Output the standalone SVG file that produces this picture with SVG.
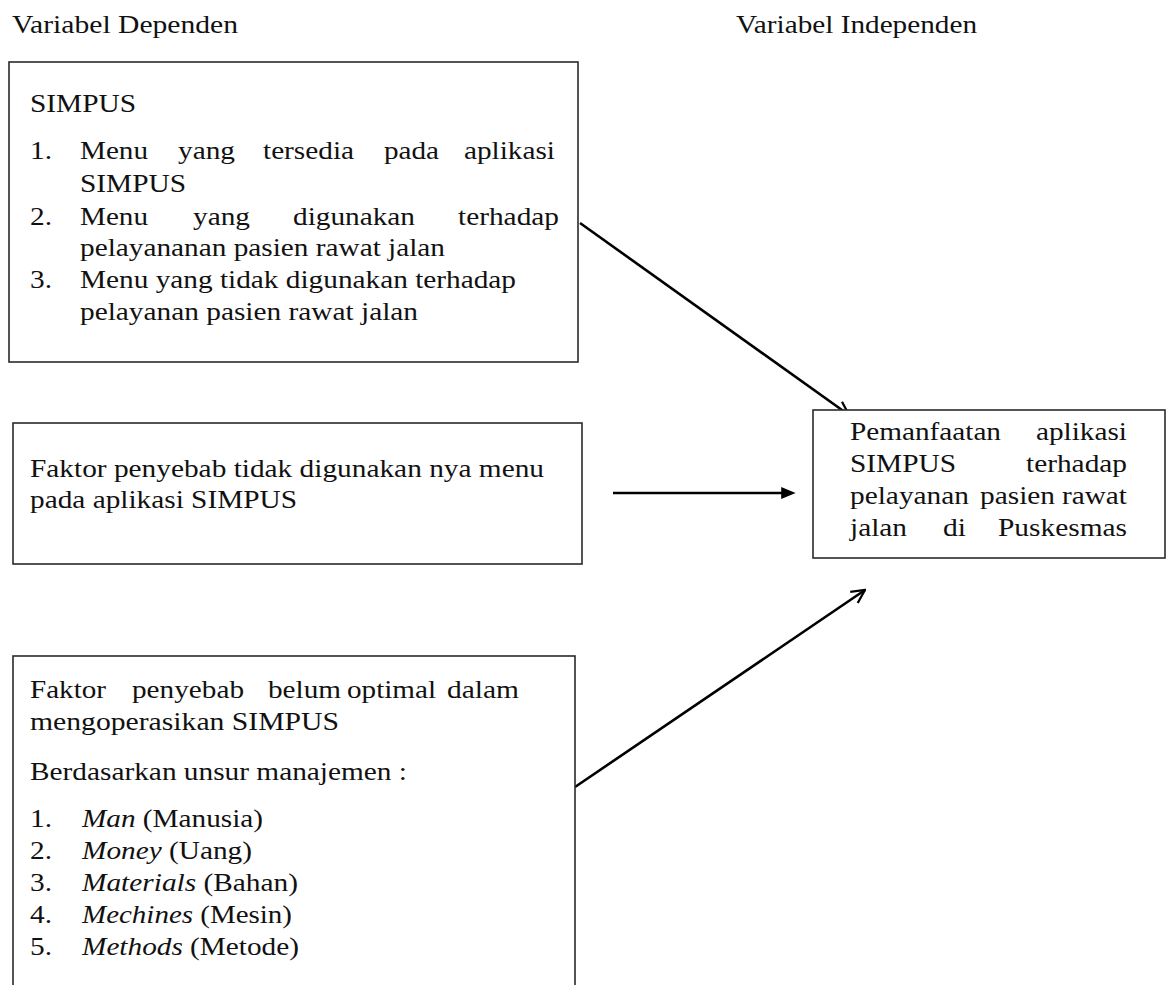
<svg xmlns="http://www.w3.org/2000/svg" width="1166" height="985" viewBox="0 0 1166 985">
<style>
text{font-family:"Liberation Serif","DejaVu Serif","Noto Serif","Times New Roman",Times,serif;font-size:25px;fill:#111}
.box{fill:#fff;stroke:#2a2a2a;stroke-width:1.6}
.con{stroke:#000;stroke-width:2.6;fill:none}
.i{font-style:italic}
</style>
<defs>
<marker id="open" viewBox="0 0 12 12" refX="11" refY="6" markerWidth="16" markerHeight="16" markerUnits="userSpaceOnUse" orient="auto">
<path d="M1,1 L11,6 L1,11" fill="none" stroke="#000" stroke-width="1.7"/>
</marker>
<marker id="solid" viewBox="0 0 12 10" refX="4" refY="5" markerWidth="18" markerHeight="12" markerUnits="userSpaceOnUse" orient="auto">
<path d="M0,0 L12,5 L0,10 z" fill="#000"/>
</marker>
</defs>
<rect width="1166" height="985" fill="#fff"/>
<g id="headers" font-family="'Liberation Serif', 'DejaVu Serif', serif">
<text x="12" y="33" textLength="226" lengthAdjust="spacingAndGlyphs">Variabel Dependen</text>
<text x="736" y="33" textLength="241" lengthAdjust="spacingAndGlyphs">Variabel Independen</text>
</g>
<g id="connectors">
<line class="con" x1="580" y1="223" x2="849" y2="415" marker-end="url(#open)"/>
<line class="con" x1="613" y1="493" x2="786" y2="493" marker-end="url(#solid)"/>
<line class="con" x1="575" y1="787" x2="865" y2="590" marker-end="url(#open)"/>
</g>
<g id="node-simpus" font-family="'Liberation Serif', 'DejaVu Serif', serif">
<rect class="box" x="9" y="62" width="569" height="300"/>
<text x="30" y="112" textLength="106" lengthAdjust="spacingAndGlyphs">SIMPUS</text>
<text x="30" y="159" textLength="22" lengthAdjust="spacingAndGlyphs">1.</text>
<text x="80" y="159" textLength="68" lengthAdjust="spacingAndGlyphs">Menu</text>
<text x="178" y="159" textLength="57" lengthAdjust="spacingAndGlyphs">yang</text>
<text x="263" y="159" textLength="91" lengthAdjust="spacingAndGlyphs">tersedia</text>
<text x="384" y="159" textLength="55" lengthAdjust="spacingAndGlyphs">pada</text>
<text x="464" y="159" textLength="91" lengthAdjust="spacingAndGlyphs">aplikasi</text>
<text x="80" y="192" textLength="106" lengthAdjust="spacingAndGlyphs">SIMPUS</text>
<text x="30" y="225" textLength="22" lengthAdjust="spacingAndGlyphs">2.</text>
<text x="80" y="225" textLength="68" lengthAdjust="spacingAndGlyphs">Menu</text>
<text x="193" y="225" textLength="57" lengthAdjust="spacingAndGlyphs">yang</text>
<text x="293" y="225" textLength="122" lengthAdjust="spacingAndGlyphs">digunakan</text>
<text x="458" y="225" textLength="101" lengthAdjust="spacingAndGlyphs">terhadap</text>
<text x="80" y="256" textLength="365" lengthAdjust="spacingAndGlyphs">pelayananan pasien rawat jalan</text>
<text x="30" y="288" textLength="22" lengthAdjust="spacingAndGlyphs">3.</text>
<text x="80" y="288" textLength="436" lengthAdjust="spacingAndGlyphs">Menu yang tidak digunakan terhadap</text>
<text x="80" y="320" textLength="338" lengthAdjust="spacingAndGlyphs">pelayanan pasien rawat jalan</text>
</g>
<g id="node-faktor-menu" font-family="'Liberation Serif', 'DejaVu Serif', serif">
<rect class="box" x="13" y="423" width="569" height="141"/>
<text x="30" y="477" textLength="514" lengthAdjust="spacingAndGlyphs">Faktor penyebab tidak digunakan nya menu</text>
<text x="30" y="508" textLength="267" lengthAdjust="spacingAndGlyphs">pada aplikasi SIMPUS</text>
</g>
<g id="node-pemanfaatan" font-family="'Liberation Serif', 'DejaVu Serif', serif">
<rect class="box" x="813" y="410" width="352" height="148"/>
<text x="850" y="440" textLength="151" lengthAdjust="spacingAndGlyphs">Pemanfaatan</text>
<text x="1036" y="440" textLength="91" lengthAdjust="spacingAndGlyphs">aplikasi</text>
<text x="850" y="472" textLength="106" lengthAdjust="spacingAndGlyphs">SIMPUS</text>
<text x="1026" y="472" textLength="101" lengthAdjust="spacingAndGlyphs">terhadap</text>
<text x="850" y="504" textLength="119" lengthAdjust="spacingAndGlyphs">pelayanan</text>
<text x="980" y="504" textLength="75" lengthAdjust="spacingAndGlyphs">pasien</text>
<text x="1062" y="504" textLength="65" lengthAdjust="spacingAndGlyphs">rawat</text>
<text x="850" y="536" textLength="57" lengthAdjust="spacingAndGlyphs">jalan</text>
<text x="943" y="536" textLength="23" lengthAdjust="spacingAndGlyphs">di</text>
<text x="998" y="536" textLength="129" lengthAdjust="spacingAndGlyphs">Puskesmas</text>
</g>
<g id="node-faktor-optimal" font-family="'Liberation Serif', 'DejaVu Serif', serif">
<rect class="box" x="13" y="656" width="562" height="340"/>
<text x="30" y="698" textLength="76" lengthAdjust="spacingAndGlyphs">Faktor</text>
<text x="132" y="698" textLength="112" lengthAdjust="spacingAndGlyphs">penyebab</text>
<text x="268" y="698" textLength="73" lengthAdjust="spacingAndGlyphs">belum</text>
<text x="347" y="698" textLength="89" lengthAdjust="spacingAndGlyphs">optimal</text>
<text x="447" y="698" textLength="72" lengthAdjust="spacingAndGlyphs">dalam</text>
<text x="30" y="730" textLength="309" lengthAdjust="spacingAndGlyphs">mengoperasikan SIMPUS</text>
<text x="30" y="780" textLength="377" lengthAdjust="spacingAndGlyphs">Berdasarkan unsur manajemen :</text>
<text x="30" y="827" textLength="22" lengthAdjust="spacingAndGlyphs">1.</text>
<text x="82" y="827" textLength="181" lengthAdjust="spacingAndGlyphs"><tspan class="i">Man</tspan> (Manusia)</text>
<text x="30" y="859" textLength="22" lengthAdjust="spacingAndGlyphs">2.</text>
<text x="82" y="859" textLength="170" lengthAdjust="spacingAndGlyphs"><tspan class="i">Money</tspan> (Uang)</text>
<text x="30" y="891" textLength="22" lengthAdjust="spacingAndGlyphs">3.</text>
<text x="82" y="891" textLength="216" lengthAdjust="spacingAndGlyphs"><tspan class="i">Materials</tspan> (Bahan)</text>
<text x="30" y="923" textLength="22" lengthAdjust="spacingAndGlyphs">4.</text>
<text x="82" y="923" textLength="210" lengthAdjust="spacingAndGlyphs"><tspan class="i">Mechines</tspan> (Mesin)</text>
<text x="30" y="955" textLength="22" lengthAdjust="spacingAndGlyphs">5.</text>
<text x="82" y="955" textLength="217" lengthAdjust="spacingAndGlyphs"><tspan class="i">Methods</tspan> (Metode)</text>
</g>
</svg>
